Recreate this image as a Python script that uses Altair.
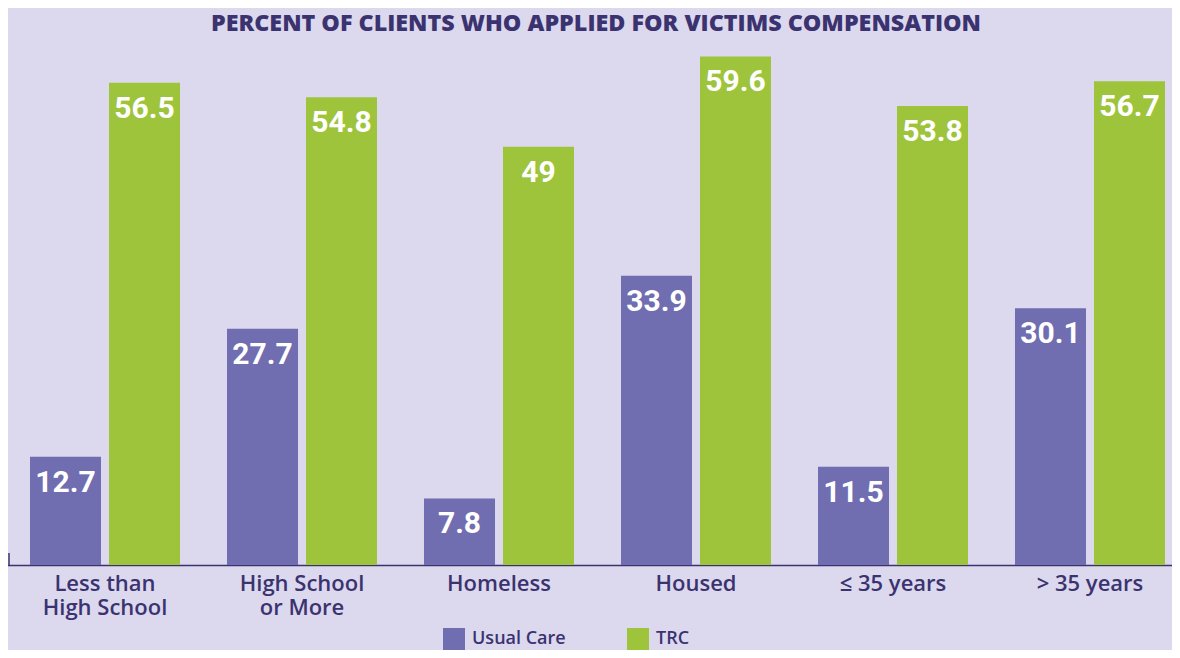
import altair as alt
import pandas as pd

categories = ["Less than\nHigh School", "High School\nor More", "Homeless", "Housed", "≤ 35 years", "> 35 years"]
usual_care = [12.7, 27.7, 7.8, 33.9, 11.5, 30.1]
trc = [56.5, 54.8, 49, 59.6, 53.8, 56.7]
series = ["Usual Care", "TRC"]
colors = ["#716db1", "#9ec43b"]

rows = []
for c, u, t in zip(categories, usual_care, trc):
    rows.append({"cat": c, "series": "Usual Care", "value": u, "label": f"{u:g}"})
    rows.append({"cat": c, "series": "TRC", "value": t, "label": f"{t:g}"})
df = pd.DataFrame(rows)

DARK = "#3b3370"
BG = "#dcd9ee"

x_enc = alt.X("cat:N", sort=categories, title=None,
              scale=alt.Scale(range=[-1.5, 1180.5], paddingInner=0, paddingOuter=0),
              axis=alt.Axis(labelExpr="split(datum.label, '\\n')", labelAngle=0,
                            labelFont="Open Sans", labelFontWeight=600, labelFontSize=22,
                            labelColor=DARK, labelLineHeight=24, labelPadding=8,
                            ticks=False, domainColor=DARK, domainWidth=1.5))
xo_enc = alt.XOffset("series:N", sort=series,
                     scale=alt.Scale(paddingInner=0.101, paddingOuter=0.2975))
y_enc = alt.Y("value:Q", scale=alt.Scale(domain=[0, 60]), axis=None)

bars = alt.Chart(df).mark_bar().encode(
    x=x_enc, xOffset=xo_enc, y=y_enc,
    color=alt.Color("series:N", sort=series,
                    scale=alt.Scale(domain=series, range=colors),
                    legend=alt.Legend(title=None, orient="none", legendX=435, legendY=575,
                                      direction="horizontal", symbolType="square",
                                      symbolSize=484, symbolStrokeWidth=0,
                                      labelFont="Open Sans", labelFontWeight=600,
                                      labelFontSize=18, labelColor=DARK, labelOffset=7,
                                      columnPadding=61, padding=0)),
)

text = alt.Chart(df).mark_text(
    color="white", font="Roboto",
    fontWeight="bold", fontSize=30, baseline="alphabetic", dy=35, align="center"
).encode(x=x_enc, xOffset=xo_enc, y=y_enc, text="label:N")

stub = alt.Chart(pd.DataFrame({"a": [0], "b": [1.4]})).mark_rule(color=DARK, strokeWidth=1.5).encode(
    x=alt.value(1), y="a:Q", y2="b:Q")

chart = alt.layer(bars, text, stub).properties(
    width=1164, height=512,
    title=alt.TitleParams("PERCENT OF CLIENTS WHO APPLIED FOR VICTIMS COMPENSATION",
                          font="Open Sans", fontWeight=800, fontSize=23.3,
                          color=DARK, anchor="middle", baseline="alphabetic", offset=-1, dx=6),
    autosize=alt.AutoSizeParams(type="none"),
    padding={"left": 0, "top": 45, "right": 0, "bottom": 85},
    background=BG,
).configure_view(stroke=None)

chart.save("out.html", embed_options={"renderer": "svg", "actions": False})
